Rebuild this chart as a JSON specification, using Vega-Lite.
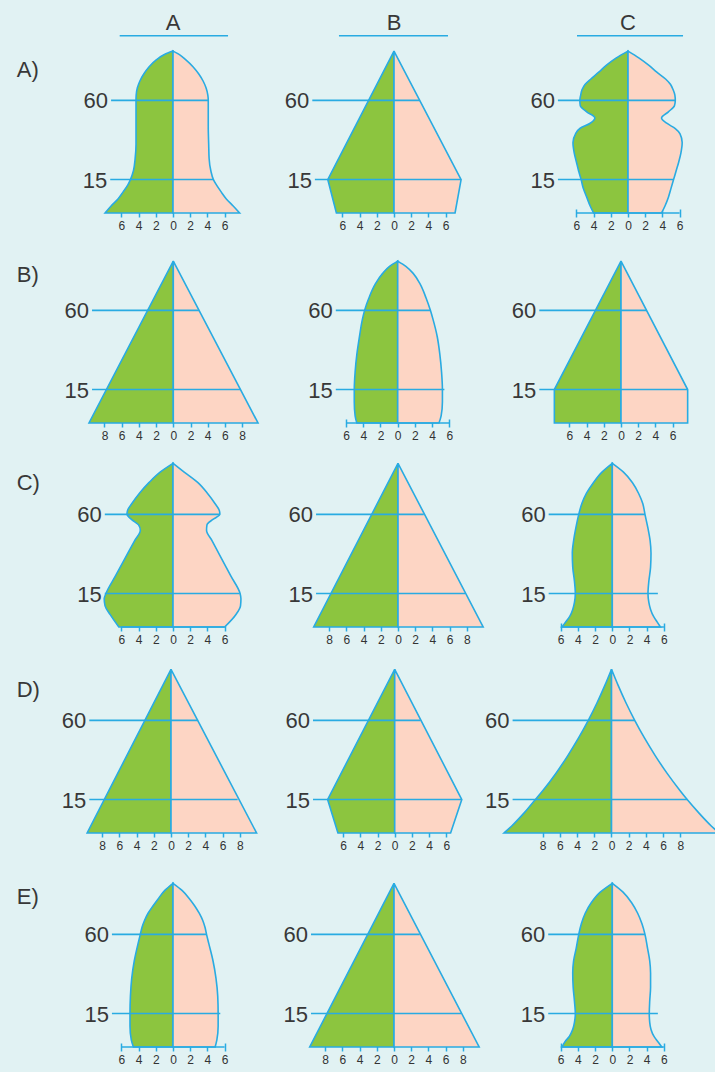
{
"$schema": "https://vega.github.io/schema/vega-lite/v6.json",
"background": "#e1f2f3",
"padding": {"left": 0, "top": 0, "right": 0, "bottom": 20},
"spacing": 17,
"config": {
  "view": {"stroke": null},
  "rule": {"stroke": "#29abe2", "strokeWidth": 1.6},
  "text": {"font": "Liberation Sans", "fontSize": 22, "color": "#383838", "baseline": "middle"},
  "axisX": {"domain": false, "grid": false, "offset": -4, "tickSize": 8, "tickColor": "#29abe2", "tickWidth": 1.5, "labelPadding": 3, "labelFontSize": 12, "labelColor": "#333333", "labelFont": "Liberation Sans", "labelOverlap": false, "labelFlush": false, "labelBound": false}
},
"datasets": {
  "profiles": [
    {"p":"AA","age":-4,"m":-7.9,"f":7.75},{"p":"AA","age":0,"m":-7.2,"f":7.0},{"p":"AA","age":4,"m":-6.4,"f":6.2},{"p":"AA","age":8,"m":-5.8,"f":5.6},{"p":"AA","age":12,"m":-5.25,"f":5.05},{"p":"AA","age":15,"m":-4.95,"f":4.7},{"p":"AA","age":20,"m":-4.6,"f":4.4},{"p":"AA","age":27,"m":-4.4,"f":4.2},{"p":"AA","age":35,"m":-4.3,"f":4.15},{"p":"AA","age":45,"m":-4.3,"f":4.1},{"p":"AA","age":55,"m":-4.3,"f":4.1},{"p":"AA","age":60,"m":-4.3,"f":4.1},{"p":"AA","age":63,"m":-4.28,"f":4.05},{"p":"AA","age":67,"m":-4.15,"f":3.85},{"p":"AA","age":71,"m":-3.85,"f":3.5},{"p":"AA","age":75,"m":-3.4,"f":3.0},{"p":"AA","age":79,"m":-2.8,"f":2.35},{"p":"AA","age":83,"m":-1.95,"f":1.5},{"p":"AA","age":86,"m":-1.0,"f":0.75},{"p":"AA","age":88,"m":0,"f":0},
    {"p":"AB","age":-4,"m":-6.7,"f":7.1},{"p":"AB","age":15,"m":-7.7,"f":7.8},{"p":"AB","age":88,"m":0,"f":0},
    {"p":"AC","age":-4,"m":-4.0,"f":3.9},{"p":"AC","age":0,"m":-4.4,"f":4.3},{"p":"AC","age":5,"m":-4.8,"f":4.7},{"p":"AC","age":10,"m":-5.2,"f":5.0},{"p":"AC","age":15,"m":-5.45,"f":5.3},{"p":"AC","age":20,"m":-5.75,"f":5.6},{"p":"AC","age":25,"m":-6.0,"f":5.9},{"p":"AC","age":30,"m":-6.25,"f":6.15},{"p":"AC","age":36,"m":-6.4,"f":6.3},{"p":"AC","age":41,"m":-6.1,"f":6.05},{"p":"AC","age":44,"m":-5.6,"f":5.5},{"p":"AC","age":47,"m":-4.4,"f":4.5},{"p":"AC","age":50,"m":-3.85,"f":3.9},{"p":"AC","age":53.5,"m":-4.8,"f":4.7},{"p":"AC","age":57,"m":-5.55,"f":5.4},{"p":"AC","age":60,"m":-5.6,"f":5.5},{"p":"AC","age":63,"m":-5.5,"f":5.45},{"p":"AC","age":66,"m":-5.35,"f":5.25},{"p":"AC","age":69,"m":-5.0,"f":4.95},{"p":"AC","age":72,"m":-4.35,"f":4.4},{"p":"AC","age":76,"m":-3.4,"f":3.35},{"p":"AC","age":80,"m":-2.5,"f":2.4},{"p":"AC","age":84,"m":-1.4,"f":1.3},{"p":"AC","age":88,"m":0,"f":0},
    {"p":"BA","age":-4,"m":-9.8,"f":9.85},{"p":"BA","age":88,"m":0,"f":0},
    {"p":"BB","age":-4,"m":-4.75,"f":4.8},{"p":"BB","age":0,"m":-4.95,"f":5.05},{"p":"BB","age":8,"m":-5.05,"f":5.2},{"p":"BB","age":15,"m":-5.05,"f":5.2},{"p":"BB","age":25,"m":-4.95,"f":5.1},{"p":"BB","age":35,"m":-4.75,"f":4.9},{"p":"BB","age":45,"m":-4.45,"f":4.6},{"p":"BB","age":55,"m":-4.1,"f":4.1},{"p":"BB","age":60,"m":-3.85,"f":3.8},{"p":"BB","age":67,"m":-3.35,"f":3.3},{"p":"BB","age":75,"m":-2.6,"f":2.6},{"p":"BB","age":81,"m":-1.75,"f":1.8},{"p":"BB","age":85,"m":-0.95,"f":0.95},{"p":"BB","age":88,"m":0,"f":0},
    {"p":"BC","age":-4,"m":-7.75,"f":7.75},{"p":"BC","age":15,"m":-7.75,"f":7.75},{"p":"BC","age":88,"m":0,"f":0},
    {"p":"CA","age":-4,"m":-6.3,"f":6.0},{"p":"CA","age":3,"m":-7.3,"f":7.3},{"p":"CA","age":8,"m":-7.9,"f":7.85},{"p":"CA","age":12,"m":-8.0,"f":7.9},{"p":"CA","age":15,"m":-7.8,"f":7.8},{"p":"CA","age":25,"m":-6.69,"f":6.72},{"p":"CA","age":35,"m":-5.58,"f":5.63},{"p":"CA","age":45,"m":-4.47,"f":4.55},{"p":"CA","age":51,"m":-3.8,"f":3.9},{"p":"CA","age":54,"m":-4.0,"f":3.95},{"p":"CA","age":57,"m":-4.8,"f":4.6},{"p":"CA","age":60,"m":-5.35,"f":5.45},{"p":"CA","age":62,"m":-5.3,"f":5.4},{"p":"CA","age":66,"m":-4.8,"f":4.9},{"p":"CA","age":72,"m":-3.9,"f":4.0},{"p":"CA","age":78,"m":-2.8,"f":2.9},{"p":"CA","age":84,"m":-1.5,"f":1.3},{"p":"CA","age":89,"m":0,"f":0},
    {"p":"CB","age":-4,"m":-9.8,"f":9.9},{"p":"CB","age":89,"m":0,"f":0},
    {"p":"CC","age":-4,"m":-5.85,"f":5.6},{"p":"CC","age":-1,"m":-5.4,"f":5.2},{"p":"CC","age":2,"m":-4.95,"f":4.8},{"p":"CC","age":6,"m":-4.6,"f":4.45},{"p":"CC","age":10,"m":-4.4,"f":4.25},{"p":"CC","age":15,"m":-4.3,"f":4.15},{"p":"CC","age":22,"m":-4.4,"f":4.25},{"p":"CC","age":30,"m":-4.6,"f":4.45},{"p":"CC","age":38,"m":-4.65,"f":4.5},{"p":"CC","age":45,"m":-4.5,"f":4.4},{"p":"CC","age":52,"m":-4.25,"f":4.15},{"p":"CC","age":60,"m":-3.9,"f":3.8},{"p":"CC","age":66,"m":-3.55,"f":3.55},{"p":"CC","age":72,"m":-3.0,"f":3.05},{"p":"CC","age":78,"m":-2.2,"f":2.35},{"p":"CC","age":84,"m":-1.2,"f":1.3},{"p":"CC","age":89,"m":0,"f":0},
    {"p":"DA","age":-4,"m":-9.75,"f":9.95},{"p":"DA","age":89,"m":0,"f":0},
    {"p":"DB","age":-4,"m":-6.6,"f":6.5},{"p":"DB","age":15,"m":-7.8,"f":7.8},{"p":"DB","age":89,"m":0,"f":0},
    {"p":"DC","age":-4,"m":-12.5,"f":12.5},{"p":"DC","age":0,"m":-11.6,"f":11.6},{"p":"DC","age":8,"m":-10.05,"f":10.05},{"p":"DC","age":15,"m":-8.85,"f":8.8},{"p":"DC","age":20,"m":-8.0,"f":7.98},{"p":"DC","age":30,"m":-6.45,"f":6.45},{"p":"DC","age":40,"m":-5.08,"f":5.08},{"p":"DC","age":50,"m":-3.83,"f":3.83},{"p":"DC","age":60,"m":-2.7,"f":2.7},{"p":"DC","age":70,"m":-1.68,"f":1.68},{"p":"DC","age":80,"m":-0.76,"f":0.76},{"p":"DC","age":89,"m":0,"f":0},
    {"p":"EA","age":-4,"m":-4.6,"f":4.9},{"p":"EA","age":0,"m":-4.85,"f":5.1},{"p":"EA","age":8,"m":-5.0,"f":5.25},{"p":"EA","age":15,"m":-5.0,"f":5.25},{"p":"EA","age":25,"m":-4.95,"f":5.2},{"p":"EA","age":35,"m":-4.8,"f":5.0},{"p":"EA","age":45,"m":-4.5,"f":4.65},{"p":"EA","age":55,"m":-4.05,"f":4.15},{"p":"EA","age":60,"m":-3.8,"f":3.9},{"p":"EA","age":64,"m":-3.6,"f":3.72},{"p":"EA","age":68,"m":-3.3,"f":3.45},{"p":"EA","age":72,"m":-2.9,"f":3.05},{"p":"EA","age":76,"m":-2.35,"f":2.55},{"p":"EA","age":80,"m":-1.75,"f":1.95},{"p":"EA","age":85,"m":-0.95,"f":1.05},{"p":"EA","age":89,"m":0,"f":0},
    {"p":"EB","age":-4,"m":-9.8,"f":9.9},{"p":"EB","age":89,"m":0,"f":0},
    {"p":"EC","age":-4,"m":-5.85,"f":5.75},{"p":"EC","age":-1,"m":-5.5,"f":5.3},{"p":"EC","age":2,"m":-5.0,"f":4.85},{"p":"EC","age":6,"m":-4.6,"f":4.5},{"p":"EC","age":10,"m":-4.4,"f":4.35},{"p":"EC","age":15,"m":-4.3,"f":4.3},{"p":"EC","age":22,"m":-4.4,"f":4.35},{"p":"EC","age":30,"m":-4.55,"f":4.45},{"p":"EC","age":38,"m":-4.6,"f":4.45},{"p":"EC","age":45,"m":-4.5,"f":4.35},{"p":"EC","age":52,"m":-4.2,"f":4.1},{"p":"EC","age":60,"m":-3.9,"f":3.8},{"p":"EC","age":66,"m":-3.6,"f":3.45},{"p":"EC","age":72,"m":-3.15,"f":2.95},{"p":"EC","age":78,"m":-2.45,"f":2.25},{"p":"EC","age":84,"m":-1.4,"f":1.25},{"p":"EC","age":89,"m":0,"f":0}
  ],
  "levels": [
    {"p":"AA","age":60,"start":-7.2,"end":4.07,"label":"60"},{"p":"AA","age":15,"start":-7.3,"end":4.65,"label":"15"},
    {"p":"AB","age":60,"start":-9.5,"end":3.0,"label":"60"},{"p":"AB","age":15,"start":-9.2,"end":7.8,"label":"15"},
    {"p":"AC","age":60,"start":-8.15,"end":5.47,"label":"60"},{"p":"AC","age":15,"start":-8.15,"end":5.27,"label":"15"},
    {"p":"BA","age":60,"start":-9.45,"end":3.0,"label":"60"},{"p":"BA","age":15,"start":-9.45,"end":7.8,"label":"15"},
    {"p":"BB","age":60,"start":-7.2,"end":3.84,"label":"60"},{"p":"BB","age":15,"start":-7.2,"end":5.43,"label":"15"},
    {"p":"BC","age":60,"start":-9.5,"end":3.0,"label":"60"},{"p":"BC","age":15,"start":-9.5,"end":7.75,"label":"15"},
    {"p":"CA","age":60,"start":-7.93,"end":5.47,"label":"60"},{"p":"CA","age":15,"start":-7.93,"end":7.76,"label":"15"},
    {"p":"CB","age":60,"start":-9.53,"end":3.0,"label":"60"},{"p":"CB","age":15,"start":-9.53,"end":7.8,"label":"15"},
    {"p":"CC","age":60,"start":-7.4,"end":3.8,"label":"60"},{"p":"CC","age":15,"start":-7.4,"end":5.3,"label":"15"},
    {"p":"DA","age":60,"start":-9.5,"end":3.15,"label":"60"},{"p":"DA","age":15,"start":-9.5,"end":7.75,"label":"15"},
    {"p":"DB","age":60,"start":-9.5,"end":3.0,"label":"60"},{"p":"DB","age":15,"start":-9.5,"end":7.8,"label":"15"},
    {"p":"DC","age":60,"start":-11.5,"end":2.7,"label":"60"},{"p":"DC","age":15,"start":-11.5,"end":8.8,"label":"15"},
    {"p":"EA","age":60,"start":-7.1,"end":3.9,"label":"60"},{"p":"EA","age":15,"start":-7.1,"end":5.5,"label":"15"},
    {"p":"EB","age":60,"start":-9.65,"end":3.0,"label":"60"},{"p":"EB","age":15,"start":-9.65,"end":7.8,"label":"15"},
    {"p":"EC","age":60,"start":-7.45,"end":3.8,"label":"60"},{"p":"EC","age":15,"start":-7.45,"end":5.3,"label":"15"}
  ],
  "bases": [
    {"p":"AC","age":-4,"lo":-6,"hi":6},{"p":"BB","age":-4,"lo":-6,"hi":6},{"p":"CA","age":-4,"lo":-6,"hi":6},
    {"p":"CC","age":-4,"lo":-6,"hi":6},{"p":"EA","age":-4,"lo":-6,"hi":6},{"p":"EC","age":-4,"lo":-6,"hi":6}
  ]
},
"vconcat": [
 {"hconcat": [
  {"width": 270, "height": 213, "layer": [
   {"data": {"name": "profiles"}, "transform": [{"filter": "datum.p == 'AA'"}], "mark": {"type": "area", "orient": "horizontal", "interpolate": "monotone", "fill": "#8cc53f", "stroke": "#29abe2", "strokeWidth": 1.6},
    "encoding": {"y": {"field": "age", "type": "quantitative", "scale": {"domain": [-4, 117.02], "nice": false, "zero": false}, "axis": null},
     "x": {"field": "m", "type": "quantitative", "scale": {"domain": [-20.116, 11.279], "nice": false, "zero": false}, "axis": {"values": [-6,-4,-2,0,2,4,6], "tickCount": 30, "labelExpr": "abs(datum.value)", "title": null, "labelOverlap": false}},
     "x2": {"datum": 0}}},
   {"data": {"name": "profiles"}, "transform": [{"filter": "datum.p == 'AA'"}], "mark": {"type": "area", "orient": "horizontal", "interpolate": "monotone", "fill": "#fdd5c4", "stroke": "#29abe2", "strokeWidth": 1.6},
    "encoding": {"y": {"field": "age", "type": "quantitative", "axis": null}, "x": {"field": "f", "type": "quantitative"}, "x2": {"datum": 0}}},
   {"data": {"name": "levels"}, "transform": [{"filter": "datum.p == 'AA'"}], "mark": "rule",
    "encoding": {"y": {"field": "age", "type": "quantitative", "axis": null}, "x": {"field": "start", "type": "quantitative"}, "x2": {"field": "end"}}},
   {"data": {"name": "levels"}, "transform": [{"filter": "datum.p == 'AA'"}], "mark": {"type": "text", "align": "right", "dx": -3, "dy": 1},
    "encoding": {"y": {"field": "age", "type": "quantitative", "axis": null}, "x": {"field": "start", "type": "quantitative"}, "text": {"field": "label"}}},
   {"data": {"values": [{"t": "A)"}]}, "mark": {"type": "text", "align": "left"},
    "encoding": {"x": {"datum": -18.17}, "y": {"datum": 77.2}, "text": {"field": "t"}}},
   {"data": {"values": [{"t": "A"}]}, "mark": {"type": "text", "align": "center"},
    "encoding": {"x": {"datum": 0}, "y": {"datum": 104.2}, "text": {"field": "t"}}},
   {"data": {"values": [{"t": "A"}]}, "mark": "rule",
    "encoding": {"x": {"datum": -6.2}, "x2": {"datum": 6.4}, "y": {"datum": 96.7}}}
  ]},
  {"width": 220, "height": 213, "layer": [
   {"data": {"name": "profiles"}, "transform": [{"filter": "datum.p == 'AB'"}], "mark": {"type": "area", "orient": "horizontal", "interpolate": "linear", "fill": "#8cc53f", "stroke": "#29abe2", "strokeWidth": 1.6},
    "encoding": {"y": {"field": "age", "type": "quantitative", "scale": {"domain": [-4, 117.02], "nice": false, "zero": false}, "axis": null},
     "x": {"field": "m", "type": "quantitative", "scale": {"domain": [-14.419, 11.163], "nice": false, "zero": false}, "axis": {"values": [-6,-4,-2,0,2,4,6], "tickCount": 30, "labelExpr": "abs(datum.value)", "title": null, "labelOverlap": false}},
     "x2": {"datum": 0}}},
   {"data": {"name": "profiles"}, "transform": [{"filter": "datum.p == 'AB'"}], "mark": {"type": "area", "orient": "horizontal", "interpolate": "linear", "fill": "#fdd5c4", "stroke": "#29abe2", "strokeWidth": 1.6},
    "encoding": {"y": {"field": "age", "type": "quantitative", "axis": null}, "x": {"field": "f", "type": "quantitative"}, "x2": {"datum": 0}}},
   {"data": {"name": "levels"}, "transform": [{"filter": "datum.p == 'AB'"}], "mark": "rule",
    "encoding": {"y": {"field": "age", "type": "quantitative", "axis": null}, "x": {"field": "start", "type": "quantitative"}, "x2": {"field": "end"}}},
   {"data": {"name": "levels"}, "transform": [{"filter": "datum.p == 'AB'"}], "mark": {"type": "text", "align": "right", "dx": -3, "dy": 1},
    "encoding": {"y": {"field": "age", "type": "quantitative", "axis": null}, "x": {"field": "start", "type": "quantitative"}, "text": {"field": "label"}}},
   {"data": {"values": [{"t": "B"}]}, "mark": {"type": "text", "align": "center"},
    "encoding": {"x": {"datum": 0}, "y": {"datum": 104.2}, "text": {"field": "t"}}},
   {"data": {"values": [{"t": "B"}]}, "mark": "rule",
    "encoding": {"x": {"datum": -6.4}, "x2": {"datum": 6.28}, "y": {"datum": 96.7}}}
  ]},
  {"width": 225, "height": 213, "layer": [
   {"data": {"name": "profiles"}, "transform": [{"filter": "datum.p == 'AC'"}], "mark": {"type": "area", "orient": "horizontal", "interpolate": "monotone", "fill": "#8cc53f", "stroke": "#29abe2", "strokeWidth": 1.6},
    "encoding": {"y": {"field": "age", "type": "quantitative", "scale": {"domain": [-4, 117.02], "nice": false, "zero": false}, "axis": null},
     "x": {"field": "m", "type": "quantitative", "scale": {"domain": [-16.047, 10.116], "nice": false, "zero": false}, "axis": {"values": [-6,-4,-2,0,2,4,6], "tickCount": 30, "labelExpr": "abs(datum.value)", "title": null, "labelOverlap": false}},
     "x2": {"datum": 0}}},
   {"data": {"name": "profiles"}, "transform": [{"filter": "datum.p == 'AC'"}], "mark": {"type": "area", "orient": "horizontal", "interpolate": "monotone", "fill": "#fdd5c4", "stroke": "#29abe2", "strokeWidth": 1.6},
    "encoding": {"y": {"field": "age", "type": "quantitative", "axis": null}, "x": {"field": "f", "type": "quantitative"}, "x2": {"datum": 0}}},
   {"data": {"name": "levels"}, "transform": [{"filter": "datum.p == 'AC'"}], "mark": "rule",
    "encoding": {"y": {"field": "age", "type": "quantitative", "axis": null}, "x": {"field": "start", "type": "quantitative"}, "x2": {"field": "end"}}},
   {"data": {"name": "bases"}, "transform": [{"filter": "datum.p == 'AC'"}], "mark": "rule",
    "encoding": {"y": {"field": "age", "type": "quantitative", "axis": null}, "x": {"field": "lo", "type": "quantitative"}, "x2": {"field": "hi"}}},
   {"data": {"name": "levels"}, "transform": [{"filter": "datum.p == 'AC'"}], "mark": {"type": "text", "align": "right", "dx": -3, "dy": 1},
    "encoding": {"y": {"field": "age", "type": "quantitative", "axis": null}, "x": {"field": "start", "type": "quantitative"}, "text": {"field": "label"}}},
   {"data": {"values": [{"t": "C"}]}, "mark": {"type": "text", "align": "center"},
    "encoding": {"x": {"datum": 0}, "y": {"datum": 104.2}, "text": {"field": "t"}}},
   {"data": {"values": [{"t": "C"}]}, "mark": "rule",
    "encoding": {"x": {"datum": -5.93}, "x2": {"datum": 6.4}, "y": {"datum": 96.7}}}
  ]}
 ], "spacing": 0, "bounds": "flush"},
 {"hconcat": [
  {"width": 270, "height": 175, "layer": [
   {"data": {"name": "profiles"}, "transform": [{"filter": "datum.p == 'BA'"}], "mark": {"type": "area", "orient": "horizontal", "interpolate": "linear", "fill": "#8cc53f", "stroke": "#29abe2", "strokeWidth": 1.6},
    "encoding": {"y": {"field": "age", "type": "quantitative", "scale": {"domain": [-4, 95.43], "nice": false, "zero": false}, "axis": null},
     "x": {"field": "m", "type": "quantitative", "scale": {"domain": [-20.151, 11.244], "nice": false, "zero": false}, "axis": {"values": [-8,-6,-4,-2,0,2,4,6,8], "tickCount": 30, "labelExpr": "abs(datum.value)", "title": null, "labelOverlap": false}},
     "x2": {"datum": 0}}},
   {"data": {"name": "profiles"}, "transform": [{"filter": "datum.p == 'BA'"}], "mark": {"type": "area", "orient": "horizontal", "interpolate": "linear", "fill": "#fdd5c4", "stroke": "#29abe2", "strokeWidth": 1.6},
    "encoding": {"y": {"field": "age", "type": "quantitative", "axis": null}, "x": {"field": "f", "type": "quantitative"}, "x2": {"datum": 0}}},
   {"data": {"name": "levels"}, "transform": [{"filter": "datum.p == 'BA'"}], "mark": "rule",
    "encoding": {"y": {"field": "age", "type": "quantitative", "axis": null}, "x": {"field": "start", "type": "quantitative"}, "x2": {"field": "end"}}},
   {"data": {"name": "levels"}, "transform": [{"filter": "datum.p == 'BA'"}], "mark": {"type": "text", "align": "right", "dx": -3, "dy": 1},
    "encoding": {"y": {"field": "age", "type": "quantitative", "axis": null}, "x": {"field": "start", "type": "quantitative"}, "text": {"field": "label"}}},
   {"data": {"values": [{"t": "B)"}]}, "mark": {"type": "text", "align": "left"},
    "encoding": {"x": {"datum": -18.2}, "y": {"datum": 80}, "text": {"field": "t"}}}
  ]},
  {"width": 220, "height": 175, "layer": [
   {"data": {"name": "profiles"}, "transform": [{"filter": "datum.p == 'BB'"}], "mark": {"type": "area", "orient": "horizontal", "interpolate": "monotone", "fill": "#8cc53f", "stroke": "#29abe2", "strokeWidth": 1.6},
    "encoding": {"y": {"field": "age", "type": "quantitative", "scale": {"domain": [-4, 95.43], "nice": false, "zero": false}, "axis": null},
     "x": {"field": "m", "type": "quantitative", "scale": {"domain": [-14.849, 10.733], "nice": false, "zero": false}, "axis": {"values": [-6,-4,-2,0,2,4,6], "tickCount": 30, "labelExpr": "abs(datum.value)", "title": null, "labelOverlap": false}},
     "x2": {"datum": 0}}},
   {"data": {"name": "profiles"}, "transform": [{"filter": "datum.p == 'BB'"}], "mark": {"type": "area", "orient": "horizontal", "interpolate": "monotone", "fill": "#fdd5c4", "stroke": "#29abe2", "strokeWidth": 1.6},
    "encoding": {"y": {"field": "age", "type": "quantitative", "axis": null}, "x": {"field": "f", "type": "quantitative"}, "x2": {"datum": 0}}},
   {"data": {"name": "levels"}, "transform": [{"filter": "datum.p == 'BB'"}], "mark": "rule",
    "encoding": {"y": {"field": "age", "type": "quantitative", "axis": null}, "x": {"field": "start", "type": "quantitative"}, "x2": {"field": "end"}}},
   {"data": {"name": "bases"}, "transform": [{"filter": "datum.p == 'BB'"}], "mark": "rule",
    "encoding": {"y": {"field": "age", "type": "quantitative", "axis": null}, "x": {"field": "lo", "type": "quantitative"}, "x2": {"field": "hi"}}},
   {"data": {"name": "levels"}, "transform": [{"filter": "datum.p == 'BB'"}], "mark": {"type": "text", "align": "right", "dx": -3, "dy": 1},
    "encoding": {"y": {"field": "age", "type": "quantitative", "axis": null}, "x": {"field": "start", "type": "quantitative"}, "text": {"field": "label"}}}
  ]},
  {"width": 225, "height": 175, "layer": [
   {"data": {"name": "profiles"}, "transform": [{"filter": "datum.p == 'BC'"}], "mark": {"type": "area", "orient": "horizontal", "interpolate": "linear", "fill": "#8cc53f", "stroke": "#29abe2", "strokeWidth": 1.6},
    "encoding": {"y": {"field": "age", "type": "quantitative", "scale": {"domain": [-4, 95.43], "nice": false, "zero": false}, "axis": null},
     "x": {"field": "m", "type": "quantitative", "scale": {"domain": [-15.233, 10.93], "nice": false, "zero": false}, "axis": {"values": [-6,-4,-2,0,2,4,6], "tickCount": 30, "labelExpr": "abs(datum.value)", "title": null, "labelOverlap": false}},
     "x2": {"datum": 0}}},
   {"data": {"name": "profiles"}, "transform": [{"filter": "datum.p == 'BC'"}], "mark": {"type": "area", "orient": "horizontal", "interpolate": "linear", "fill": "#fdd5c4", "stroke": "#29abe2", "strokeWidth": 1.6},
    "encoding": {"y": {"field": "age", "type": "quantitative", "axis": null}, "x": {"field": "f", "type": "quantitative"}, "x2": {"datum": 0}}},
   {"data": {"name": "levels"}, "transform": [{"filter": "datum.p == 'BC'"}], "mark": "rule",
    "encoding": {"y": {"field": "age", "type": "quantitative", "axis": null}, "x": {"field": "start", "type": "quantitative"}, "x2": {"field": "end"}}},
   {"data": {"name": "levels"}, "transform": [{"filter": "datum.p == 'BC'"}], "mark": {"type": "text", "align": "right", "dx": -3, "dy": 1},
    "encoding": {"y": {"field": "age", "type": "quantitative", "axis": null}, "x": {"field": "start", "type": "quantitative"}, "text": {"field": "label"}}}
  ]}
 ], "spacing": 0, "bounds": "flush"},
 {"hconcat": [
  {"width": 270, "height": 169, "layer": [
   {"data": {"name": "profiles"}, "transform": [{"filter": "datum.p == 'CA'"}], "mark": {"type": "area", "orient": "horizontal", "interpolate": "monotone", "fill": "#8cc53f", "stroke": "#29abe2", "strokeWidth": 1.6},
    "encoding": {"y": {"field": "age", "type": "quantitative", "scale": {"domain": [-4, 92.02], "nice": false, "zero": false}, "axis": null},
     "x": {"field": "m", "type": "quantitative", "scale": {"domain": [-20.116, 11.279], "nice": false, "zero": false}, "axis": {"values": [-6,-4,-2,0,2,4,6], "tickCount": 30, "labelExpr": "abs(datum.value)", "title": null, "labelOverlap": false}},
     "x2": {"datum": 0}}},
   {"data": {"name": "profiles"}, "transform": [{"filter": "datum.p == 'CA'"}], "mark": {"type": "area", "orient": "horizontal", "interpolate": "monotone", "fill": "#fdd5c4", "stroke": "#29abe2", "strokeWidth": 1.6},
    "encoding": {"y": {"field": "age", "type": "quantitative", "axis": null}, "x": {"field": "f", "type": "quantitative"}, "x2": {"datum": 0}}},
   {"data": {"name": "levels"}, "transform": [{"filter": "datum.p == 'CA'"}], "mark": "rule",
    "encoding": {"y": {"field": "age", "type": "quantitative", "axis": null}, "x": {"field": "start", "type": "quantitative"}, "x2": {"field": "end"}}},
   {"data": {"name": "bases"}, "transform": [{"filter": "datum.p == 'CA'"}], "mark": "rule",
    "encoding": {"y": {"field": "age", "type": "quantitative", "axis": null}, "x": {"field": "lo", "type": "quantitative"}, "x2": {"field": "hi"}}},
   {"data": {"name": "levels"}, "transform": [{"filter": "datum.p == 'CA'"}], "mark": {"type": "text", "align": "right", "dx": -3, "dy": 1},
    "encoding": {"y": {"field": "age", "type": "quantitative", "axis": null}, "x": {"field": "start", "type": "quantitative"}, "text": {"field": "label"}}},
   {"data": {"values": [{"t": "C)"}]}, "mark": {"type": "text", "align": "left"},
    "encoding": {"x": {"datum": -18.17}, "y": {"datum": 77.8}, "text": {"field": "t"}}}
  ]},
  {"width": 220, "height": 169, "layer": [
   {"data": {"name": "profiles"}, "transform": [{"filter": "datum.p == 'CB'"}], "mark": {"type": "area", "orient": "horizontal", "interpolate": "linear", "fill": "#8cc53f", "stroke": "#29abe2", "strokeWidth": 1.6},
    "encoding": {"y": {"field": "age", "type": "quantitative", "scale": {"domain": [-4, 92.02], "nice": false, "zero": false}, "axis": null},
     "x": {"field": "m", "type": "quantitative", "scale": {"domain": [-14.884, 10.698], "nice": false, "zero": false}, "axis": {"values": [-8,-6,-4,-2,0,2,4,6,8], "tickCount": 30, "labelExpr": "abs(datum.value)", "title": null, "labelOverlap": false}},
     "x2": {"datum": 0}}},
   {"data": {"name": "profiles"}, "transform": [{"filter": "datum.p == 'CB'"}], "mark": {"type": "area", "orient": "horizontal", "interpolate": "linear", "fill": "#fdd5c4", "stroke": "#29abe2", "strokeWidth": 1.6},
    "encoding": {"y": {"field": "age", "type": "quantitative", "axis": null}, "x": {"field": "f", "type": "quantitative"}, "x2": {"datum": 0}}},
   {"data": {"name": "levels"}, "transform": [{"filter": "datum.p == 'CB'"}], "mark": "rule",
    "encoding": {"y": {"field": "age", "type": "quantitative", "axis": null}, "x": {"field": "start", "type": "quantitative"}, "x2": {"field": "end"}}},
   {"data": {"name": "levels"}, "transform": [{"filter": "datum.p == 'CB'"}], "mark": {"type": "text", "align": "right", "dx": -3, "dy": 1},
    "encoding": {"y": {"field": "age", "type": "quantitative", "axis": null}, "x": {"field": "start", "type": "quantitative"}, "text": {"field": "label"}}}
  ]},
  {"width": 225, "height": 169, "layer": [
   {"data": {"name": "profiles"}, "transform": [{"filter": "datum.p == 'CC'"}], "mark": {"type": "area", "orient": "horizontal", "interpolate": "monotone", "fill": "#8cc53f", "stroke": "#29abe2", "strokeWidth": 1.6},
    "encoding": {"y": {"field": "age", "type": "quantitative", "scale": {"domain": [-4, 92.02], "nice": false, "zero": false}, "axis": null},
     "x": {"field": "m", "type": "quantitative", "scale": {"domain": [-14.221, 11.942], "nice": false, "zero": false}, "axis": {"values": [-6,-4,-2,0,2,4,6], "tickCount": 30, "labelExpr": "abs(datum.value)", "title": null, "labelOverlap": false}},
     "x2": {"datum": 0}}},
   {"data": {"name": "profiles"}, "transform": [{"filter": "datum.p == 'CC'"}], "mark": {"type": "area", "orient": "horizontal", "interpolate": "monotone", "fill": "#fdd5c4", "stroke": "#29abe2", "strokeWidth": 1.6},
    "encoding": {"y": {"field": "age", "type": "quantitative", "axis": null}, "x": {"field": "f", "type": "quantitative"}, "x2": {"datum": 0}}},
   {"data": {"name": "levels"}, "transform": [{"filter": "datum.p == 'CC'"}], "mark": "rule",
    "encoding": {"y": {"field": "age", "type": "quantitative", "axis": null}, "x": {"field": "start", "type": "quantitative"}, "x2": {"field": "end"}}},
   {"data": {"name": "bases"}, "transform": [{"filter": "datum.p == 'CC'"}], "mark": "rule",
    "encoding": {"y": {"field": "age", "type": "quantitative", "axis": null}, "x": {"field": "lo", "type": "quantitative"}, "x2": {"field": "hi"}}},
   {"data": {"name": "levels"}, "transform": [{"filter": "datum.p == 'CC'"}], "mark": {"type": "text", "align": "right", "dx": -3, "dy": 1},
    "encoding": {"y": {"field": "age", "type": "quantitative", "axis": null}, "x": {"field": "start", "type": "quantitative"}, "text": {"field": "label"}}}
  ]}
 ], "spacing": 0, "bounds": "flush"},
 {"hconcat": [
  {"width": 270, "height": 171, "layer": [
   {"data": {"name": "profiles"}, "transform": [{"filter": "datum.p == 'DA'"}], "mark": {"type": "area", "orient": "horizontal", "interpolate": "linear", "fill": "#8cc53f", "stroke": "#29abe2", "strokeWidth": 1.6},
    "encoding": {"y": {"field": "age", "type": "quantitative", "scale": {"domain": [-4, 93.16], "nice": false, "zero": false}, "axis": null},
     "x": {"field": "m", "type": "quantitative", "scale": {"domain": [-19.884, 11.512], "nice": false, "zero": false}, "axis": {"values": [-8,-6,-4,-2,0,2,4,6,8], "tickCount": 30, "labelExpr": "abs(datum.value)", "title": null, "labelOverlap": false}},
     "x2": {"datum": 0}}},
   {"data": {"name": "profiles"}, "transform": [{"filter": "datum.p == 'DA'"}], "mark": {"type": "area", "orient": "horizontal", "interpolate": "linear", "fill": "#fdd5c4", "stroke": "#29abe2", "strokeWidth": 1.6},
    "encoding": {"y": {"field": "age", "type": "quantitative", "axis": null}, "x": {"field": "f", "type": "quantitative"}, "x2": {"datum": 0}}},
   {"data": {"name": "levels"}, "transform": [{"filter": "datum.p == 'DA'"}], "mark": "rule",
    "encoding": {"y": {"field": "age", "type": "quantitative", "axis": null}, "x": {"field": "start", "type": "quantitative"}, "x2": {"field": "end"}}},
   {"data": {"name": "levels"}, "transform": [{"filter": "datum.p == 'DA'"}], "mark": {"type": "text", "align": "right", "dx": -3, "dy": 1},
    "encoding": {"y": {"field": "age", "type": "quantitative", "axis": null}, "x": {"field": "start", "type": "quantitative"}, "text": {"field": "label"}}},
   {"data": {"values": [{"t": "D)"}]}, "mark": {"type": "text", "align": "left"},
    "encoding": {"x": {"datum": -17.94}, "y": {"datum": 77.3}, "text": {"field": "t"}}}
  ]},
  {"width": 220, "height": 171, "layer": [
   {"data": {"name": "profiles"}, "transform": [{"filter": "datum.p == 'DB'"}], "mark": {"type": "area", "orient": "horizontal", "interpolate": "linear", "fill": "#8cc53f", "stroke": "#29abe2", "strokeWidth": 1.6},
    "encoding": {"y": {"field": "age", "type": "quantitative", "scale": {"domain": [-4, 93.16], "nice": false, "zero": false}, "axis": null},
     "x": {"field": "m", "type": "quantitative", "scale": {"domain": [-14.5, 11.081], "nice": false, "zero": false}, "axis": {"values": [-6,-4,-2,0,2,4,6], "tickCount": 30, "labelExpr": "abs(datum.value)", "title": null, "labelOverlap": false}},
     "x2": {"datum": 0}}},
   {"data": {"name": "profiles"}, "transform": [{"filter": "datum.p == 'DB'"}], "mark": {"type": "area", "orient": "horizontal", "interpolate": "linear", "fill": "#fdd5c4", "stroke": "#29abe2", "strokeWidth": 1.6},
    "encoding": {"y": {"field": "age", "type": "quantitative", "axis": null}, "x": {"field": "f", "type": "quantitative"}, "x2": {"datum": 0}}},
   {"data": {"name": "levels"}, "transform": [{"filter": "datum.p == 'DB'"}], "mark": "rule",
    "encoding": {"y": {"field": "age", "type": "quantitative", "axis": null}, "x": {"field": "start", "type": "quantitative"}, "x2": {"field": "end"}}},
   {"data": {"name": "levels"}, "transform": [{"filter": "datum.p == 'DB'"}], "mark": {"type": "text", "align": "right", "dx": -3, "dy": 1},
    "encoding": {"y": {"field": "age", "type": "quantitative", "axis": null}, "x": {"field": "start", "type": "quantitative"}, "text": {"field": "label"}}}
  ]},
  {"width": 225, "height": 171, "layer": [
   {"data": {"name": "profiles"}, "transform": [{"filter": "datum.p == 'DC'"}], "mark": {"type": "area", "orient": "horizontal", "interpolate": "monotone", "fill": "#8cc53f", "stroke": "#29abe2", "strokeWidth": 1.6},
    "encoding": {"y": {"field": "age", "type": "quantitative", "scale": {"domain": [-4, 93.16], "nice": false, "zero": false}, "axis": null},
     "x": {"field": "m", "type": "quantitative", "scale": {"domain": [-14.128, 12.035], "nice": false, "zero": false}, "axis": {"values": [-8,-6,-4,-2,0,2,4,6,8], "tickCount": 30, "labelExpr": "abs(datum.value)", "title": null, "labelOverlap": false}},
     "x2": {"datum": 0}}},
   {"data": {"name": "profiles"}, "transform": [{"filter": "datum.p == 'DC'"}], "mark": {"type": "area", "orient": "horizontal", "interpolate": "monotone", "fill": "#fdd5c4", "stroke": "#29abe2", "strokeWidth": 1.6},
    "encoding": {"y": {"field": "age", "type": "quantitative", "axis": null}, "x": {"field": "f", "type": "quantitative"}, "x2": {"datum": 0}}},
   {"data": {"name": "levels"}, "transform": [{"filter": "datum.p == 'DC'"}], "mark": "rule",
    "encoding": {"y": {"field": "age", "type": "quantitative", "axis": null}, "x": {"field": "start", "type": "quantitative"}, "x2": {"field": "end"}}},
   {"data": {"name": "levels"}, "transform": [{"filter": "datum.p == 'DC'"}], "mark": {"type": "text", "align": "right", "dx": -3, "dy": 1},
    "encoding": {"y": {"field": "age", "type": "quantitative", "axis": null}, "x": {"field": "start", "type": "quantitative"}, "text": {"field": "label"}}}
  ]}
 ], "spacing": 0, "bounds": "flush"},
 {"hconcat": [
  {"width": 270, "height": 179, "layer": [
   {"data": {"name": "profiles"}, "transform": [{"filter": "datum.p == 'EA'"}], "mark": {"type": "area", "orient": "horizontal", "interpolate": "monotone", "fill": "#8cc53f", "stroke": "#29abe2", "strokeWidth": 1.6},
    "encoding": {"y": {"field": "age", "type": "quantitative", "scale": {"domain": [-4, 97.7], "nice": false, "zero": false}, "axis": null},
     "x": {"field": "m", "type": "quantitative", "scale": {"domain": [-20.116, 11.279], "nice": false, "zero": false}, "axis": {"values": [-6,-4,-2,0,2,4,6], "tickCount": 30, "labelExpr": "abs(datum.value)", "title": null, "labelOverlap": false}},
     "x2": {"datum": 0}}},
   {"data": {"name": "profiles"}, "transform": [{"filter": "datum.p == 'EA'"}], "mark": {"type": "area", "orient": "horizontal", "interpolate": "monotone", "fill": "#fdd5c4", "stroke": "#29abe2", "strokeWidth": 1.6},
    "encoding": {"y": {"field": "age", "type": "quantitative", "axis": null}, "x": {"field": "f", "type": "quantitative"}, "x2": {"datum": 0}}},
   {"data": {"name": "levels"}, "transform": [{"filter": "datum.p == 'EA'"}], "mark": "rule",
    "encoding": {"y": {"field": "age", "type": "quantitative", "axis": null}, "x": {"field": "start", "type": "quantitative"}, "x2": {"field": "end"}}},
   {"data": {"name": "bases"}, "transform": [{"filter": "datum.p == 'EA'"}], "mark": "rule",
    "encoding": {"y": {"field": "age", "type": "quantitative", "axis": null}, "x": {"field": "lo", "type": "quantitative"}, "x2": {"field": "hi"}}},
   {"data": {"name": "levels"}, "transform": [{"filter": "datum.p == 'EA'"}], "mark": {"type": "text", "align": "right", "dx": -3, "dy": 1},
    "encoding": {"y": {"field": "age", "type": "quantitative", "axis": null}, "x": {"field": "start", "type": "quantitative"}, "text": {"field": "label"}}},
   {"data": {"values": [{"t": "E)"}]}, "mark": {"type": "text", "align": "left"},
    "encoding": {"x": {"datum": -18.17}, "y": {"datum": 81.2}, "text": {"field": "t"}}}
  ]},
  {"width": 220, "height": 179, "layer": [
   {"data": {"name": "profiles"}, "transform": [{"filter": "datum.p == 'EB'"}], "mark": {"type": "area", "orient": "horizontal", "interpolate": "linear", "fill": "#8cc53f", "stroke": "#29abe2", "strokeWidth": 1.6},
    "encoding": {"y": {"field": "age", "type": "quantitative", "scale": {"domain": [-4, 97.7], "nice": false, "zero": false}, "axis": null},
     "x": {"field": "m", "type": "quantitative", "scale": {"domain": [-14.419, 11.163], "nice": false, "zero": false}, "axis": {"values": [-8,-6,-4,-2,0,2,4,6,8], "tickCount": 30, "labelExpr": "abs(datum.value)", "title": null, "labelOverlap": false}},
     "x2": {"datum": 0}}},
   {"data": {"name": "profiles"}, "transform": [{"filter": "datum.p == 'EB'"}], "mark": {"type": "area", "orient": "horizontal", "interpolate": "linear", "fill": "#fdd5c4", "stroke": "#29abe2", "strokeWidth": 1.6},
    "encoding": {"y": {"field": "age", "type": "quantitative", "axis": null}, "x": {"field": "f", "type": "quantitative"}, "x2": {"datum": 0}}},
   {"data": {"name": "levels"}, "transform": [{"filter": "datum.p == 'EB'"}], "mark": "rule",
    "encoding": {"y": {"field": "age", "type": "quantitative", "axis": null}, "x": {"field": "start", "type": "quantitative"}, "x2": {"field": "end"}}},
   {"data": {"name": "levels"}, "transform": [{"filter": "datum.p == 'EB'"}], "mark": {"type": "text", "align": "right", "dx": -3, "dy": 1},
    "encoding": {"y": {"field": "age", "type": "quantitative", "axis": null}, "x": {"field": "start", "type": "quantitative"}, "text": {"field": "label"}}}
  ]},
  {"width": 225, "height": 179, "layer": [
   {"data": {"name": "profiles"}, "transform": [{"filter": "datum.p == 'EC'"}], "mark": {"type": "area", "orient": "horizontal", "interpolate": "monotone", "fill": "#8cc53f", "stroke": "#29abe2", "strokeWidth": 1.6},
    "encoding": {"y": {"field": "age", "type": "quantitative", "scale": {"domain": [-4, 97.7], "nice": false, "zero": false}, "axis": null},
     "x": {"field": "m", "type": "quantitative", "scale": {"domain": [-14.221, 11.942], "nice": false, "zero": false}, "axis": {"values": [-6,-4,-2,0,2,4,6], "tickCount": 30, "labelExpr": "abs(datum.value)", "title": null, "labelOverlap": false}},
     "x2": {"datum": 0}}},
   {"data": {"name": "profiles"}, "transform": [{"filter": "datum.p == 'EC'"}], "mark": {"type": "area", "orient": "horizontal", "interpolate": "monotone", "fill": "#fdd5c4", "stroke": "#29abe2", "strokeWidth": 1.6},
    "encoding": {"y": {"field": "age", "type": "quantitative", "axis": null}, "x": {"field": "f", "type": "quantitative"}, "x2": {"datum": 0}}},
   {"data": {"name": "levels"}, "transform": [{"filter": "datum.p == 'EC'"}], "mark": "rule",
    "encoding": {"y": {"field": "age", "type": "quantitative", "axis": null}, "x": {"field": "start", "type": "quantitative"}, "x2": {"field": "end"}}},
   {"data": {"name": "bases"}, "transform": [{"filter": "datum.p == 'EC'"}], "mark": "rule",
    "encoding": {"y": {"field": "age", "type": "quantitative", "axis": null}, "x": {"field": "lo", "type": "quantitative"}, "x2": {"field": "hi"}}},
   {"data": {"name": "levels"}, "transform": [{"filter": "datum.p == 'EC'"}], "mark": {"type": "text", "align": "right", "dx": -3, "dy": 1},
    "encoding": {"y": {"field": "age", "type": "quantitative", "axis": null}, "x": {"field": "start", "type": "quantitative"}, "text": {"field": "label"}}}
  ]}
 ], "spacing": 0, "bounds": "flush"}
]
}
